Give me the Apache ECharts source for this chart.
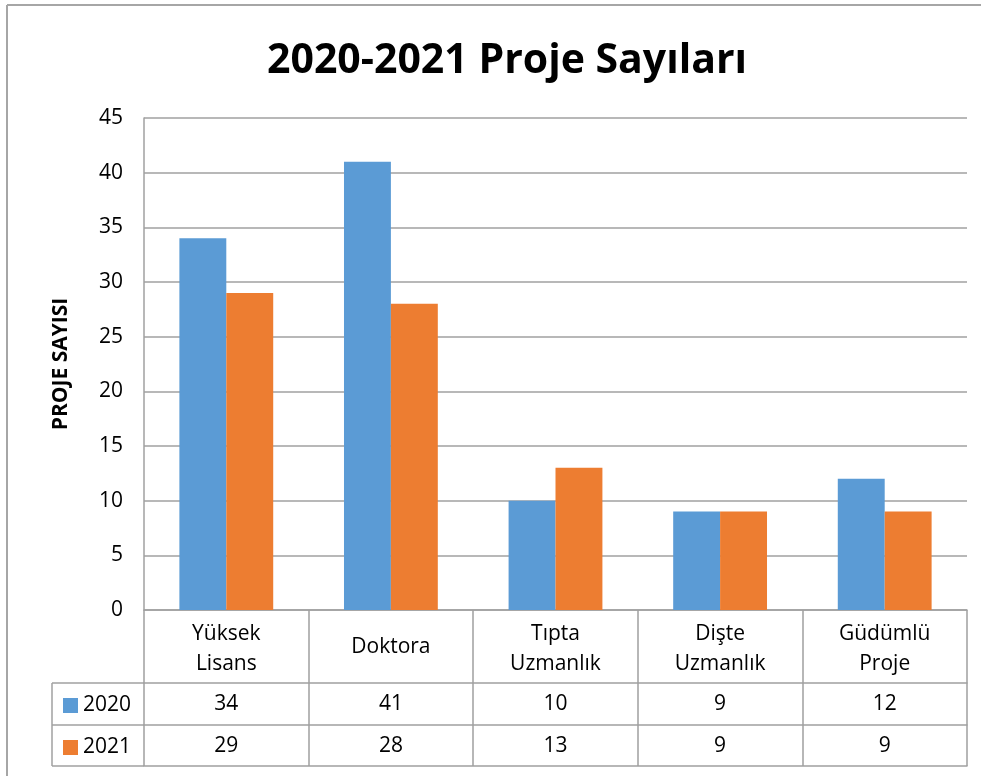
<!DOCTYPE html>
<html>
<head>
<meta charset="utf-8">
<script src="https://cdn.jsdelivr.net/npm/echarts@6/dist/echarts.min.js"></script>
<style>
  html, body { margin: 0; padding: 0; background: #fff; }
  #main { width: 981px; height: 776px; }
</style>
</head>
<body>
<div id="main"></div>
<script>
  // veriler
  var categories = ['Yüksek\nLisans', 'Doktora', 'Tıpta\nUzmanlık', 'Dişte\nUzmanlık', 'Güdümlü\nProje'];
  var seriesNames = ['2020', '2021'];
  var values2020 = [34, 41, 10, 9, 12];
  var values2021 = [29, 28, 13, 9, 9];
  var yTicks = [0, 5, 10, 15, 20, 25, 30, 35, 40, 45];

  var FONT = 'Open Sans';
  var GRAY = '#a0a0a0';
  var BLUE = '#5b9bd5';
  var ORANGE = '#ed7d31';

  var gridLeft = 144, gridRight = 967, gridTop = 118, gridBottom = 610;
  var rowY = [610, 683, 725, 766];

  var myChart = echarts.init(document.getElementById('main'));

  function rowAxis(offset, vals) {
    return {
      type: 'category',
      gridIndex: 0,
      position: 'bottom',
      offset: offset,
      data: categories,
      axisLine: { show: true, lineStyle: { color: GRAY, width: 1.5 } },
      axisTick: { show: false },
      axisLabel: vals ? {
        show: true,
        interval: 0,
        margin: 11,
        fontFamily: FONT,
        fontSize: 21,
        color: '#000',
        formatter: function (v, i) { return String(vals[i]); }
      } : { show: false }
    };
  }

  myChart.setOption({
    animation: false,
    title: {
      text: '2020-2021 Proje Sayıları',
      left: 262,
      top: 36,
      textStyle: { fontFamily: FONT, fontSize: 41, fontWeight: 'bold', color: '#000' }
    },
    legend: {
      orient: 'vertical',
      left: 58,
      top: 690,
      itemWidth: 15,
      itemHeight: 15,
      itemGap: 21,
      itemStyle: { borderWidth: 0 },
      icon: 'rect',
      data: seriesNames,
      textStyle: { fontFamily: FONT, fontSize: 21, color: '#000', lineHeight: 21 }
    },
    grid: {
      left: gridLeft,
      right: 981 - gridRight,
      top: gridTop,
      bottom: 776 - gridBottom,
      containLabel: false
    },
    xAxis: [
      {
        type: 'category',
        data: categories,
        axisLine: { show: true, lineStyle: { color: GRAY, width: 1.5 } },
        axisTick: { show: true, interval: 0, length: rowY[3] - rowY[0], lineStyle: { color: GRAY, width: 1.5 } },
        axisLabel: {
          interval: 0,
          margin: 9,
          fontFamily: FONT,
          fontSize: 21,
          lineHeight: 30,
          color: '#000',
          formatter: function (v) {
            return v.indexOf('\n') >= 0 ? v : '{one|' + v + '}';
          },
          rich: {
            one: { fontFamily: FONT, fontSize: 21, color: '#000', lineHeight: 30, padding: [27, 0, 0, 0] }
          }
        }
      },
      rowAxis(rowY[1] - rowY[0], values2020),
      rowAxis(rowY[2] - rowY[0], values2021),
      rowAxis(rowY[3] - rowY[0], null)
    ],
    yAxis: {
      type: 'value',
      min: 0,
      max: 45,
      interval: 5,
      name: 'PROJE SAYISI',
      nameLocation: 'middle',
      nameGap: 72,
      nameRotate: 90,
      nameTextStyle: { fontFamily: FONT, fontSize: 21, fontWeight: 'bold', color: '#000' },
      axisLine: { show: true, lineStyle: { color: GRAY, width: 1.5 } },
      axisTick: { show: false },
      axisLabel: {
        margin: 21,
        fontFamily: FONT,
        fontSize: 21,
        color: '#000',
        formatter: function (v) { return yTicks.indexOf(v) >= 0 ? String(v) : ''; }
      },
      splitLine: { show: true, lineStyle: { color: GRAY, width: 1.5 } }
    },
    series: [
      {
        name: seriesNames[0],
        type: 'bar',
        data: values2020,
        barWidth: '28.5%',
        barGap: '0%',
        itemStyle: { color: BLUE }
      },
      {
        name: seriesNames[1],
        type: 'bar',
        data: values2021,
        barWidth: '28.5%',
        barGap: '0%',
        itemStyle: { color: ORANGE }
      }
    ],
    graphic: [
      // dış çerçeve (üst ve sol kenar)
      { type: 'line', shape: { x1: 7, y1: 5, x2: 981, y2: 5 }, style: { stroke: '#a6a6a6', lineWidth: 2 } },
      { type: 'line', shape: { x1: 7, y1: 5, x2: 7, y2: 776 }, style: { stroke: '#a6a6a6', lineWidth: 2 } },
      // tablo lejant sütunu
      { type: 'line', shape: { x1: 52, y1: rowY[1], x2: gridLeft, y2: rowY[1] }, style: { stroke: GRAY, lineWidth: 1.5 } },
      { type: 'line', shape: { x1: 52, y1: rowY[2], x2: gridLeft, y2: rowY[2] }, style: { stroke: GRAY, lineWidth: 1.5 } },
      { type: 'line', shape: { x1: 52, y1: rowY[3], x2: gridLeft, y2: rowY[3] }, style: { stroke: GRAY, lineWidth: 1.5 } },
      { type: 'line', shape: { x1: 52, y1: rowY[1], x2: 52, y2: rowY[3] }, style: { stroke: GRAY, lineWidth: 1.5 } }
    ]
  });
</script>
</body>
</html>
